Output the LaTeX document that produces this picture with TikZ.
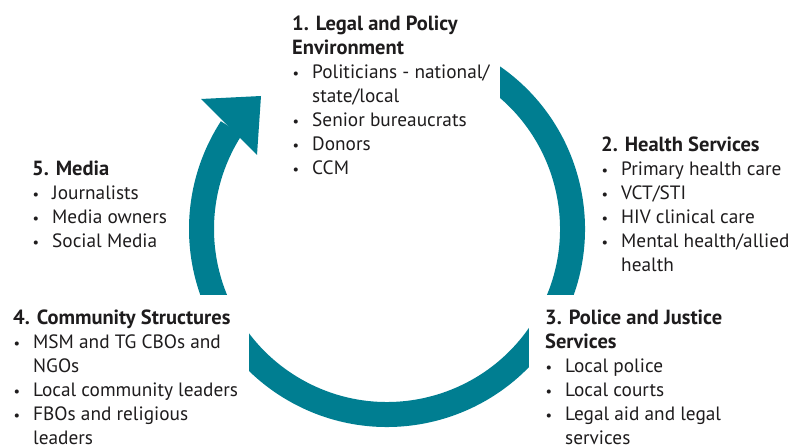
\documentclass[tikz,border=0pt]{standalone}
\usepackage{fontspec}
\setmainfont{PT Sans}
\definecolor{teal}{RGB}{0,126,145}
\definecolor{ink}{RGB}{30,28,29}
\newcommand{\bitem}[1]{\makebox[20pt][l]{\hspace{0.5pt}\scalebox{0.75}{\textbullet}}#1}
\newcommand{\bcont}[1]{\hspace*{20pt}#1}
\newcommand{\hd}[1]{{\fontsize{20.5}{24}\selectfont\bfseries #1}}
\tikzset{
  blk/.style={anchor=north west, inner sep=0pt, align=left, text=ink,
    font={\fontsize{19.3}{24}\selectfont}},
  ring/.style={draw=teal, line width=25pt},
  mask/.style={fill=white},
}
\begin{document}
\begin{tikzpicture}[x=1pt,y=1pt]
\useasboundingbox (0,0) rectangle (790,446);
\coordinate (c) at (387,217);
% ring
\draw[ring] (c) ++(60:185.5) arc[start angle=60, end angle=-213, radius=185.5];
% arrowhead
\fill[teal] (201,347) -- (261,350) -- (257,291) -- cycle;
% white areas behind the text blocks
\fill[mask] (283,261) rectangle (500,446);
\fill[mask] (0,0) rectangle (249,151);
\fill[mask] (529,0) rectangle (790,151);
% text blocks
\node[blk] (b1) at (292,446-13.2) {\strut\hd{1. Legal and Policy}\\\strut\hd{Environment}\\
  \strut\bitem{Politicians - national/}\\\strut\bcont{state/local}\\
  \strut\bitem{Senior bureaucrats}\\\strut\bitem{Donors}\\\strut\bitem{CCM}};
\node[blk] (b2) at (601,446-134.2) {\strut\hd{2. Health Services}\\
  \strut\bitem{Primary health care}\\\strut\bitem{VCT/STI}\\
  \strut\bitem{HIV clinical care}\\\strut\bitem{Mental health/allied}\\\strut\bcont{health}};
\node[blk] (b3) at (545,446-307.2) {\strut\hd{3. Police and Justice}\\\strut\hd{Services}\\
  \strut\bitem{Local police}\\\strut\bitem{Local courts}\\
  \strut\bitem{Legal aid and legal}\\\bcont{services}};
\node[blk] (b4) at (13,446-307.2) {\strut\hd{4. Community Structures}\\
  \strut\bitem{MSM and TG CBOs and}\\\strut\bcont{NGOs}\\
  \strut\bitem{Local community leaders}\\\strut\bitem{FBOs and religious}\\\bcont{leaders}};
\node[blk] (b5) at (32,446-158.2) {\strut\hd{5. Media}\\
  \strut\bitem{Journalists}\\\strut\bitem{Media owners}\\\strut\bitem{Social Media}};
\end{tikzpicture}
\end{document}
